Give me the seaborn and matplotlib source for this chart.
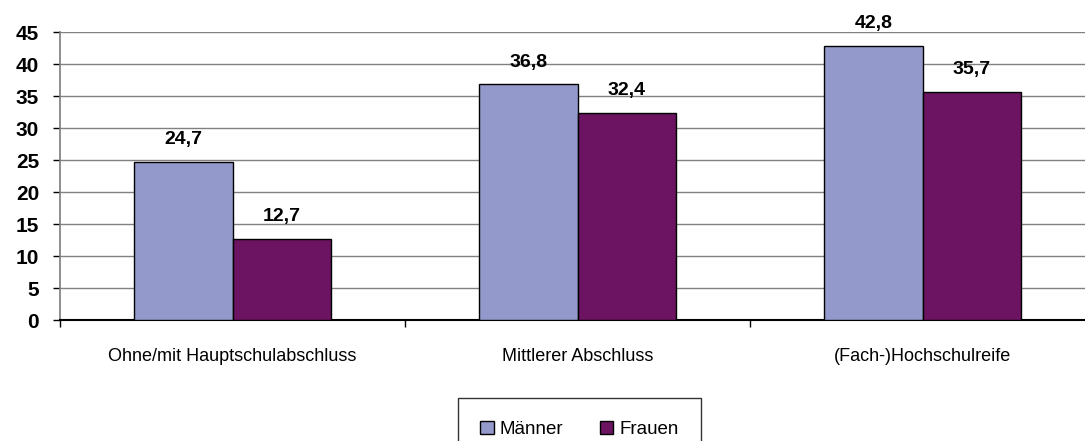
import seaborn as sns
import matplotlib.pyplot as plt
import pandas as pd

# Daten
kategorien = ["Ohne/mit Hauptschulabschluss", "Mittlerer Abschluss", "(Fach-)Hochschulreife"]
maenner = [24.7, 36.8, 42.8]
frauen = [12.7, 32.4, 35.7]
gruppen = ["Männer", "Frauen"]
farben = ["#9499CB", "#6C1361"]

df = pd.DataFrame({
    "kategorie": kategorien * 2,
    "wert": maenner + frauen,
    "gruppe": [gruppen[0]] * 3 + [gruppen[1]] * 3,
})

sns.set_theme(style="white")
plt.rcParams["font.family"] = ["Liberation Sans", "DejaVu Sans"]
plt.rcParams["text.color"] = "black"
plt.rcParams["xtick.color"] = "black"
plt.rcParams["ytick.color"] = "black"

fig = plt.figure(figsize=(10.85, 4.41), dpi=100)
ax = fig.add_axes([60 / 1085, 1 - 320 / 441, 1035 / 1085, 288 / 441])

sns.barplot(data=df, x="kategorie", y="wert", hue="gruppe", palette=farben,
            width=0.57, edgecolor="black", linewidth=1.0, saturation=1,
            ax=ax, legend=False, zorder=3)

# Werte ueber den Balken
for cont in ax.containers:
    labels = [f"{v:.1f}".replace(".", ",") for v in cont.datavalues]
    ax.bar_label(cont, labels=labels, padding=10, fontsize=14, fontweight="bold",
                 color="black")

ax.set_ylim(0, 45)
ax.set_xlim(-0.5, 2.5)
ax.set_yticks(range(0, 46, 5))
ax.yaxis.grid(True, color="#808080", linewidth=1.0, zorder=0)
ax.set_axisbelow(True)
ax.set_xlabel("")
ax.set_ylabel("")

for s in ["top", "right"]:
    ax.spines[s].set_visible(False)
ax.spines["left"].set_color("#808080")
ax.spines["bottom"].set_color("black")
ax.spines["bottom"].set_linewidth(1.5)

ax.tick_params(axis="y", left=True, length=5, width=1, color="black",
               labelsize=15, pad=10)
for t in ax.get_yticklabels():
    t.set_fontweight("bold")

# Kategorien-Trenner als Ticks
ax.set_xticks([-0.5, 0.5, 1.5, 2.5], minor=True)
ax.tick_params(axis="x", which="minor", bottom=True, length=5, width=1, color="black")
ax.tick_params(axis="x", which="major", bottom=False, labelsize=13, pad=14)

handles = [plt.Rectangle((0, 0), 1, 1, facecolor=c, edgecolor="black", linewidth=1)
           for c in farben]
leg = fig.legend(handles, gruppen, loc="upper center", bbox_to_anchor=(0.534, 1 - 398 / 441),
                 ncol=2, fontsize=13.5, frameon=True, fancybox=False, borderaxespad=0,
                 handlelength=0.7, handleheight=0.7, handletextpad=0.3,
                 columnspacing=2.0, borderpad=1.2)
leg.get_frame().set_edgecolor("black")
leg.get_frame().set_linewidth(1.0)

fig.savefig("out.png", dpi=100)
